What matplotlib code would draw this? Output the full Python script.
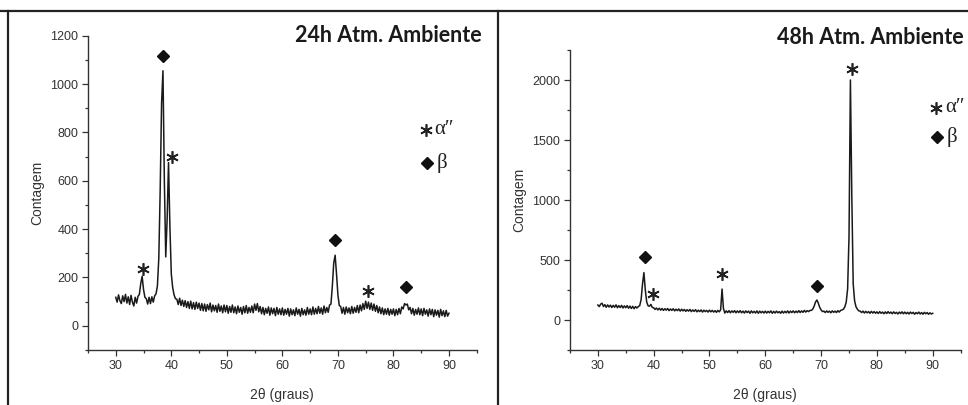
import numpy as np
import matplotlib
matplotlib.use('Agg')
import matplotlib.pyplot as plt
from matplotlib.lines import Line2D
from matplotlib.ticker import MultipleLocator

plt.rcParams['font.family'] = ['Liberation Sans', 'DejaVu Sans']

# 2theta grid (degrees) shared by both scans
theta = np.arange(30.0, 90.001, 0.25)

# 24h scan, counts (one row = 5 degrees)
counts_24 = [
    118, 98, 128, 104, 92, 124, 100, 130, 94, 120, 88, 126, 98, 82, 118, 94, 122, 130, 175, 205,
    150, 118, 112, 90, 118, 92, 120, 98, 124, 132, 165, 280, 560, 920, 1055, 600, 285, 440, 675, 410,
    215, 158, 128, 112, 110, 88, 114, 84, 106, 80, 104, 76, 100, 72, 102, 70, 96, 68, 98, 72,
    94, 64, 92, 62, 90, 60, 88, 66, 94, 58, 86, 62, 84, 56, 90, 60, 82, 54, 86, 58,
    84, 52, 80, 56, 86, 54, 78, 50, 82, 56, 76, 48, 80, 54, 84, 52, 76, 56, 82, 54,
    90, 64, 92, 58, 80, 50, 76, 46, 72, 52, 78, 44, 74, 50, 72, 42, 76, 48, 70, 46,
    74, 44, 68, 48, 72, 40, 70, 46, 66, 42, 74, 48, 68, 40, 72, 46, 66, 44, 76, 48,
    70, 46, 78, 48, 72, 50, 80, 52, 74, 48, 82, 54, 76, 56, 86, 90, 165, 260, 292, 215,
    128, 84, 80, 52, 76, 48, 78, 54, 74, 50, 80, 52, 76, 56, 84, 54, 86, 62, 92, 68,
    102, 72, 98, 68, 94, 64, 90, 60, 84, 54, 78, 50, 74, 46, 70, 48, 72, 44, 68, 48,
    70, 42, 68, 46, 72, 50, 78, 70, 92, 86, 90, 66, 76, 50, 72, 44, 68, 48, 74, 46,
    70, 42, 72, 48, 66, 40, 70, 46, 68, 38, 66, 44, 64, 36, 68, 42, 62, 38, 64, 40,
    52,
]

# 48h scan
counts_48 = [
    125, 112, 132, 140, 112, 128, 106, 126, 108, 124, 104, 122, 106, 126, 102, 120, 104, 122, 100, 118,
    102, 120, 98, 116, 96, 114, 94, 112, 100, 112, 120, 170, 300, 395, 250, 150, 118, 115, 130, 105,
    102, 88, 100, 84, 98, 82, 96, 80, 94, 82, 96, 78, 92, 80, 94, 76, 90, 78, 92, 74,
    90, 76, 88, 72, 86, 74, 88, 70, 84, 72, 86, 68, 82, 70, 84, 66, 82, 70, 80, 66,
    82, 68, 80, 66, 78, 64, 80, 68, 85, 258, 95, 58, 76, 62, 78, 60, 76, 64, 78, 60,
    76, 62, 78, 60, 74, 58, 76, 62, 74, 56, 76, 60, 72, 58, 76, 56, 74, 60, 72, 58,
    74, 58, 72, 60, 76, 56, 72, 58, 74, 60, 70, 56, 74, 58, 72, 60, 76, 58, 74, 62,
    76, 60, 74, 62, 78, 62, 76, 64, 80, 66, 78, 70, 80, 80, 90, 115, 150, 167, 140, 105,
    84, 70, 74, 62, 76, 64, 74, 60, 76, 64, 74, 62, 78, 66, 80, 84, 90, 110, 150, 260,
    700, 2000, 1030, 300, 160, 110, 90, 76, 74, 62, 74, 58, 72, 60, 70, 56, 72, 58, 70, 56,
    68, 54, 70, 56, 66, 52, 68, 54, 70, 56, 66, 52, 68, 54, 64, 50, 66, 54, 68, 52,
    66, 52, 64, 50, 66, 54, 64, 48, 62, 52, 66, 50, 62, 48, 64, 52, 62, 48, 60, 50,
    56,
]

# phase labels above the peaks: alpha'' (*) and beta (diamond)
alpha_24_x = [34.9, 40.2, 75.4]
alpha_24_y = [233, 697, 143]
beta_24_x = [38.5, 69.5, 82.3]
beta_24_y = [1116, 354, 159]

alpha_48_x = [39.9, 52.3, 75.5]
alpha_48_y = [214, 380, 2092]
beta_48_x = [38.4, 69.2]
beta_48_y = [522, 286]

fig = plt.figure(figsize=(9.68, 4.05), dpi=100)

def panel(rect, counts, ax_x, ay, bx, by, ylim, major, minor, title, title_xy, leg):
    ax = fig.add_axes(rect)
    ax.plot(theta, counts, color='#1a1a1a', lw=1.1)
    ax.plot(ax_x, ay, ls='none', marker=(6, 2, 0), ms=9, mew=1.2, color='#222')
    ax.plot(bx, by, ls='none', marker='D', ms=6.5, color='#111')
    # legend made of symbols and greek letters
    lx, ly1, ly2 = leg
    ax.plot([lx], [ly1], ls='none', marker=(6, 2, 0), ms=9, mew=1.2, color='#222', clip_on=False)
    ax.plot([lx + 0.2], [ly2], ls='none', marker='D', ms=6.5, color='#111', clip_on=False)
    ax.text(lx + 1.6, ly1, 'α″', family='Liberation Serif', fontsize=15, va='center', color='#222')
    ax.text(lx + 1.9, ly2, 'β', family='Liberation Serif', fontsize=15, va='center', color='#222')
    ax.set_xlim(25, 95)
    ax.xaxis.set_minor_locator(MultipleLocator(5))
    ax.set_xticks(range(30, 91, 10))
    ax.yaxis.set_minor_locator(MultipleLocator(minor))
    ax.set_yticks(np.arange(0, ylim[1] + 1, major))
    ax.set_ylim(*ylim)
    for s in ['top', 'right']:
        ax.spines[s].set_visible(False)
    for s in ['left', 'bottom']:
        ax.spines[s].set_color('#333')
        ax.spines[s].set_linewidth(1.0)
    ax.tick_params(which='major', direction='out', length=4, width=0.9, labelsize=9,
                   color='#333', labelcolor='#333', pad=3)
    ax.tick_params(which='minor', direction='out', length=2.5, width=0.9, color='#333')
    ax.set_ylabel('Contagem', fontsize=10, color='#333')
    ax.set_xlabel('2θ (graus)', fontsize=10, color='#333', labelpad=12)
    fig.text(title_xy[0], title_xy[1], title, family='Lato', weight='bold', fontsize=15.5,
             ha='right', va='center', color='#1a1a1a')
    return ax

ax1 = panel([0.0909, 0.1358, 0.4016, 0.7761], counts_24, alpha_24_x, alpha_24_y,
            beta_24_x, beta_24_y, (-100, 1200), 200, 100, '24h Atm. Ambiente',
            (482 / 968, 1 - 35.5 / 405), (85.8, 810, 673))
ax2 = panel([0.5888, 0.1358, 0.4036, 0.7407], counts_48, alpha_48_x, alpha_48_y,
            beta_48_x, beta_48_y, (-250, 2250), 500, 250, '48h Atm. Ambiente',
            (964 / 968, 1 - 38 / 405), (90.6, 1769, 1525))

# table-like frame around the two panels
for xs, ys in [((0, 1), (1 - 11 / 405, 1 - 11 / 405)),
               ((8 / 968, 8 / 968), (0, 1 - 11 / 405)),
               ((498 / 968, 498 / 968), (0, 1 - 11 / 405))]:
    fig.add_artist(Line2D(xs, ys, transform=fig.transFigure, color='#222', lw=1.6))

fig.savefig('out.png', dpi=100)
